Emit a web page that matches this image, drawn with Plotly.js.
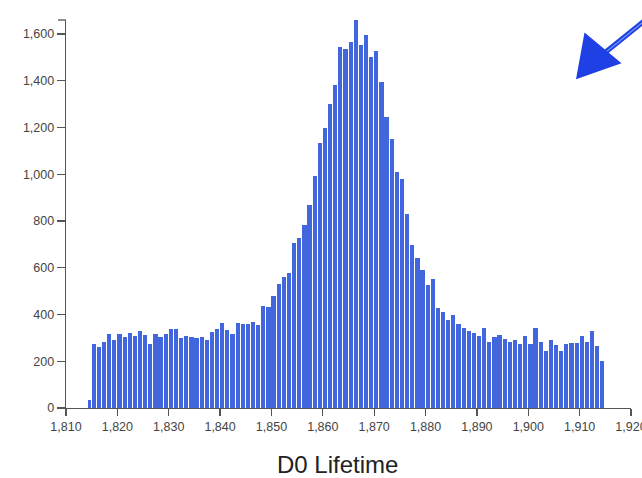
<!DOCTYPE html>
<html>
<head>
<meta charset="utf-8">
<script src="https://cdn.plot.ly/plotly-3.0.1.min.js"></script>
<style>
  html, body { margin: 0; padding: 0; background: #fff; }
  #chart { width: 642px; height: 478px; }
</style>
</head>
<body>
<div id="chart"></div>
<script>
// Histogram of D0 candidates, 1 MeV bins from 1815 to 1915,
// plus a short leading bin that starts at the smallest value.
const firstBinStart = 1814.34;
const firstBinCount = 35;
const binStart = 1815;
const binWidth = 1;
const counts = [
  272, 262, 282, 316, 289, 316, 302, 321, 306, 329,
  314, 274, 315, 302, 315, 338, 338, 298, 308, 302,
  299, 302, 293, 326, 338, 363, 332, 318, 362, 359,
  359, 369, 355, 438, 433, 480, 529, 559, 579, 707,
  726, 783, 868, 994, 1135, 1200, 1299, 1384, 1546, 1538,
  1568, 1660, 1553, 1597, 1503, 1527, 1396, 1246, 1151, 1008,
  978, 828, 697, 640, 590, 526, 550, 429, 409, 378,
  399, 361, 341, 329, 321, 309, 342, 284, 304, 311,
  295, 284, 292, 274, 306, 274, 342, 284, 245, 292,
  271, 242, 274, 278, 278, 309, 282, 328, 266, 199
];
const xTicks = [1810, 1820, 1830, 1840, 1850, 1860, 1870, 1880, 1890, 1900, 1910, 1920];
const yTicks = [0, 200, 400, 600, 800, 1000, 1200, 1400, 1600];

// bin left edges and bar widths (each bar leaves a thin gap on its right)
const gapFrac = 0.17;
const lefts = [firstBinStart];
const widths = [(binStart - firstBinStart) - gapFrac];
const values = [firstBinCount];
counts.forEach((c, i) => {
  lefts.push(binStart + i * binWidth);
  widths.push(binWidth - gapFrac);
  values.push(c);
});

const axisColor = '#555';
const tickFont = { family: 'Liberation Sans, Arial, Helvetica, sans-serif', size: 12.5, color: '#444' };

const W = 642, H = 478;
const margin = { l: 66, r: 11, t: 20, b: 70 };
const pw = W - margin.l - margin.r, ph = H - margin.t - margin.b;
// pixel position -> paper coordinates, for the decorations outside the data
const px = x => (x - margin.l) / pw;
const py = y => (H - margin.b - y) / ph;
const pt = (x, y) => px(x).toFixed(4) + ',' + py(y).toFixed(4);

const arrowColor = '#1e40e4';

const data = [{
  type: 'bar',
  x: lefts,
  y: values,
  width: widths,
  offset: 0,
  marker: { color: '#4166de', line: { width: 0 } },
  hoverinfo: 'x+y'
}];

const layout = {
  width: W,
  height: H,
  margin: margin,
  paper_bgcolor: '#fff',
  plot_bgcolor: '#fff',
  showlegend: false,
  bargap: 0,
  xaxis: {
    range: [1810, 1920],
    tickvals: xTicks,
    tickformat: ',',
    ticks: 'outside',
    ticklen: 7,
    tickwidth: 1.2,
    tickcolor: axisColor,
    showline: true,
    linecolor: axisColor,
    linewidth: 1.3,
    showgrid: false,
    zeroline: false,
    tickfont: tickFont,
    ticklabeloverflow: 'allow',
    fixedrange: true
  },
  yaxis: {
    range: [0, 1660],
    tickvals: yTicks,
    tickformat: ',',
    ticks: 'outside',
    ticklen: 8,
    tickwidth: 1.2,
    tickcolor: axisColor,
    showline: true,
    linecolor: axisColor,
    linewidth: 1.3,
    showgrid: false,
    zeroline: false,
    tickfont: tickFont,
    fixedrange: true
  },
  annotations: [{
    text: 'D0 Lifetime',
    xref: 'paper', yref: 'paper',
    x: px(337), y: py(464),
    xanchor: 'center', yanchor: 'middle',
    showarrow: false,
    font: { family: 'Liberation Sans, Arial, Helvetica, sans-serif', size: 24, color: '#222' }
  }],
  shapes: [
    // outer end tick at the top of the y axis
    {
      type: 'line', xref: 'paper', yref: 'paper',
      xsizemode: 'pixel', xanchor: 0, x0: -8, x1: 0, y0: 1, y1: 1,
      line: { color: axisColor, width: 1.3 }
    },
    // hand-drawn pointer in the top right corner: shaft with a lighter core
    {
      type: 'path', xref: 'paper', yref: 'paper',
      path: 'M' + pt(648, 18) + ' L' + pt(602, 55),
      line: { color: arrowColor, width: 5 }
    },
    {
      type: 'path', xref: 'paper', yref: 'paper',
      path: 'M' + pt(648, 18) + ' L' + pt(606, 52),
      line: { color: '#6f8ff2', width: 1.3 }
    },
    {
      type: 'path', xref: 'paper', yref: 'paper',
      path: 'M' + pt(585, 34) + ' L' + pt(577, 78) + ' L' + pt(620, 63) + ' Z',
      fillcolor: arrowColor,
      line: { color: arrowColor, width: 1.5 }
    }
  ]
};

Plotly.newPlot('chart', data, layout, { displayModeBar: false, staticPlot: true });
</script>
</body>
</html>
